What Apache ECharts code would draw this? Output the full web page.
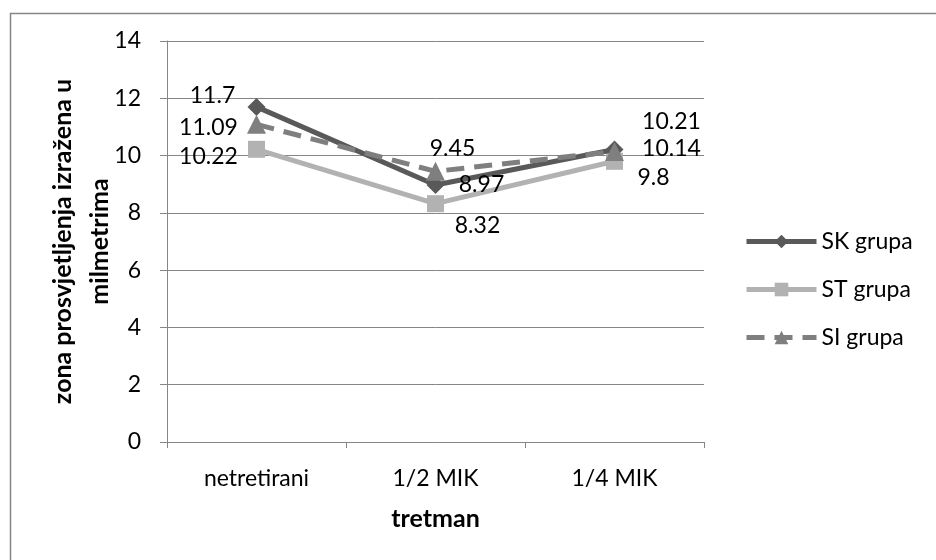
<!DOCTYPE html>
<html>
<head>
<meta charset="utf-8">
<script src="https://cdn.jsdelivr.net/npm/echarts@6/dist/echarts.min.js"></script>
<style>
html,body{margin:0;padding:0;background:#fff;}
#c{width:936px;height:560px;}
</style>
</head>
<body>
<div id="c"></div>
<script>
var categories = ['netretirani', '1/2 MIK', '1/4 MIK'];
var seriesNames = ['SK grupa', 'ST grupa', 'SI grupa'];
var skValues = [11.7, 8.97, 10.21];
var stValues = [10.22, 8.32, 9.8];
var siValues = [11.09, 9.45, 10.14];
var yTicks = [0, 2, 4, 6, 8, 10, 12, 14];

var FONT = 'Lato, "Open Sans", sans-serif';
var FS = 23;
var FS_TITLE = 25;

// label offsets (styling only), per point
var skOffsets = [[-44, -11], [46, 0], [57, -28]];
var stOffsets = [[-48, 7], [42, 22], [39, 16]];
var siOffsets = [[-48, 3], [17, -23], [57, -3]];

function buildData(values, offsets) {
  return values.map(function (v, i) {
    return {
      value: v,
      label: { show: true, position: 'inside', offset: offsets[i], align: 'center', verticalAlign: 'middle' }
    };
  });
}

var labelStyle = { show: true, color: '#000', fontFamily: FONT, fontSize: FS, formatter: '{c}' };

var chart = echarts.init(document.getElementById('c'), null, { renderer: 'canvas' });
chart.setOption({
  animation: false,
  backgroundColor: '#fff',
  graphic: [{
    type: 'rect', left: 8, top: 11, z: -10,
    shape: { width: 960, height: 600 },
    style: { fill: 'none', stroke: '#868686', lineWidth: 1.5 }
  }],
  grid: { left: 167, right: 232, top: 41, bottom: 118, containLabel: false },
  legend: {
    orient: 'vertical', left: 739, top: 225,
    itemWidth: 70, itemHeight: 17, itemGap: 25,
    lineStyle: { width: 5 },
    textStyle: { fontFamily: FONT, fontSize: FS, color: '#000' },
    data: seriesNames
  },
  xAxis: {
    type: 'category', data: categories, boundaryGap: true,
    name: 'tretman', nameLocation: 'middle', nameGap: 64, nameMoveOverlap: false,
    nameTextStyle: { fontFamily: FONT, fontSize: FS_TITLE, fontWeight: 'bold', color: '#000' },
    axisLine: { lineStyle: { color: '#868686', width: 1 } },
    axisTick: { show: true, length: 6, lineStyle: { color: '#868686' } },
    axisLabel: { fontFamily: FONT, fontSize: FS, color: '#000', margin: 25 }
  },
  yAxis: {
    type: 'value', min: yTicks[0], max: yTicks[yTicks.length - 1], interval: 2,
    name: 'zona prosvjetljenja izražena u\nmilmetrima', nameLocation: 'middle', nameGap: 49, nameRotate: 90,
    nameMoveOverlap: false,
    nameTextStyle: { fontFamily: FONT, fontSize: FS_TITLE, fontWeight: 'bold', color: '#000', lineHeight: 37 },
    axisLine: { show: true, lineStyle: { color: '#868686', width: 1 } },
    axisTick: { show: true, length: 7, lineStyle: { color: '#868686' } },
    axisLabel: { fontFamily: FONT, fontSize: FS, color: '#000', margin: 26 },
    splitLine: { show: true, lineStyle: { color: '#868686', width: 1 } }
  },
  series: [
    {
      name: seriesNames[0], type: 'line', data: buildData(skValues, skOffsets),
      symbol: 'diamond', symbolSize: 18,
      lineStyle: { color: '#595959', width: 5 },
      itemStyle: { color: '#595959' },
      label: labelStyle, z: 3
    },
    {
      name: seriesNames[1], type: 'line', data: buildData(stValues, stOffsets),
      symbol: 'rect', symbolSize: 17,
      lineStyle: { color: '#b2b2b2', width: 5 },
      itemStyle: { color: '#b2b2b2' },
      label: labelStyle, z: 2
    },
    {
      name: seriesNames[2], type: 'line', data: buildData(siValues, siOffsets),
      symbol: 'triangle', symbolSize: 19,
      lineStyle: { color: '#7f7f7f', width: 5, type: [18, 10] },
      itemStyle: { color: '#7f7f7f' },
      label: labelStyle, z: 4
    }
  ]
});
</script>
</body>
</html>
